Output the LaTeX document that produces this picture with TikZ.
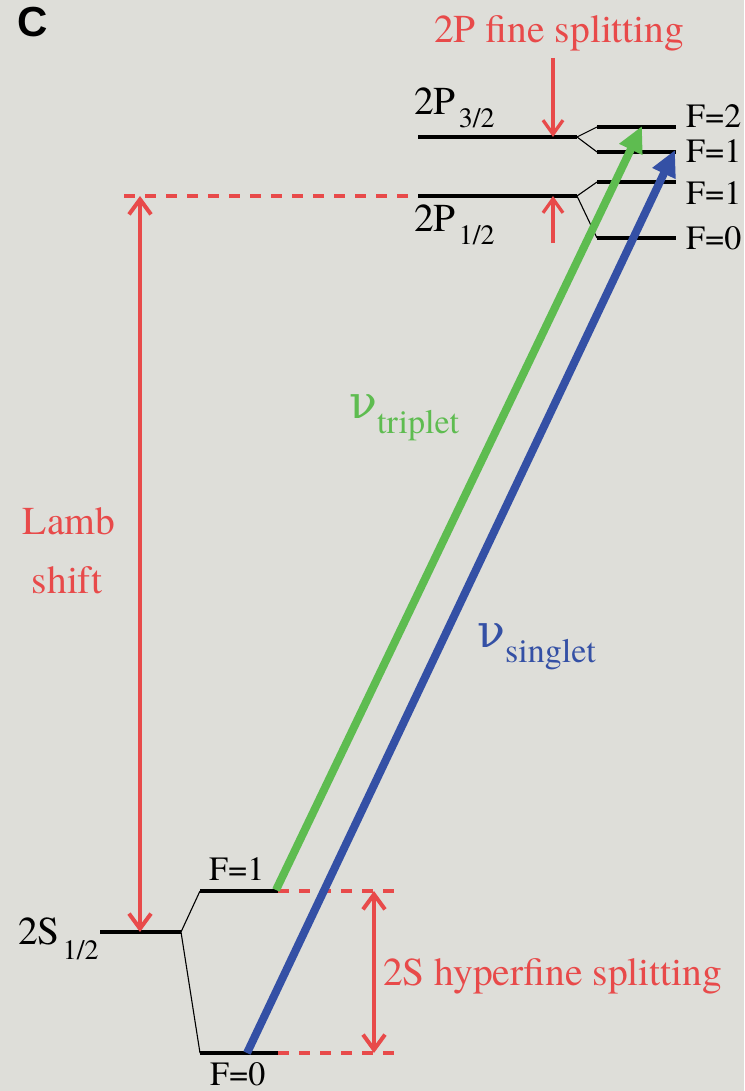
\documentclass[tikz,border=0pt]{standalone}
\usepackage{fontspec}
\setmainfont{texgyretermes}[Extension=.otf, UprightFont=*-regular, BoldFont=*-bold, ItalicFont=*-italic, BoldItalicFont=*-bolditalic]
\newfontfamily\panelfont{Liberation Sans}
\newfontfamily\greekfont{DejaVu Serif}
\usetikzlibrary{arrows.meta}
\definecolor{bg}{RGB}{222,222,217}
\definecolor{lred}{RGB}{232,74,74}
\definecolor{lgreen}{RGB}{94,188,80}
\definecolor{lblue}{RGB}{52,80,165}
\newcommand{\mainsz}{\fontsize{39.5}{44}\selectfont}
\newcommand{\fsz}{\fontsize{34}{38}\selectfont}
\newcommand{\subsz}{\fontsize{28}{30}\selectfont}
\newcommand{\nusz}{\fontsize{46}{48}\selectfont}
\tikzset{
  level/.style={line width=4pt, black, line cap=butt},
  branch/.style={line width=1.1pt, black},
  reddash/.style={lred, line width=4pt, dash pattern=on 11pt off 10pt},
  redbar/.style={lred, line width=4pt},
  transition/.style={line width=8pt, -{Triangle[length=26pt,width=24pt]}},
  txt/.style={inner sep=0pt, anchor=base west},
}
\begin{document}
\begin{tikzpicture}[x=1pt,y=-1pt]
\fill[bg] (0,0) rectangle (744,1091);
\useasboundingbox (0,0) rectangle (744,1091);

% ---- level coordinates
\coordinate (s2l) at (100,932);  \coordinate (s2r) at (181,932);
\coordinate (sf1l) at (200,891); \coordinate (sf1r) at (278,891);
\coordinate (sf0l) at (200,1053);\coordinate (sf0r) at (278,1053);
\coordinate (p32l) at (418,137); \coordinate (p32r) at (577,137);
\coordinate (p12l) at (418,196); \coordinate (p12r) at (577,196);
\coordinate (pf2l) at (597,127); \coordinate (pf2r) at (676,127);
\coordinate (pf1al) at (597,152);\coordinate (pf1ar) at (676,152);
\coordinate (pf1bl) at (597,182);\coordinate (pf1br) at (676,182);
\coordinate (pf0l) at (597,238); \coordinate (pf0r) at (676,238);

% ---- red dashed guides
\coordinate (lambd) at (124,196);
\coordinate (hf1e) at (395,891);
\coordinate (hf0e) at (395,1053);
\draw[reddash] (lambd) -- (p12l);
\draw[reddash] (sf1r) -- (hf1e);
\draw[reddash] (sf0r) -- (hf0e);

% ---- levels
\draw[level] (s2l) -- (s2r);
\draw[level] (sf1l) -- (sf1r);
\draw[level] (sf0l) -- (sf0r);
\draw[level] (p32l) -- (p32r);
\draw[level] (p12l) -- (p12r);
\draw[level] (pf2l) -- (pf2r);
\draw[level] (pf1al) -- (pf1ar);
\draw[level] (pf1bl) -- (pf1br);
\draw[level] (pf0l) -- (pf0r);

% ---- thin branch connectors
\draw[branch] (s2r) -- (sf1l);
\draw[branch] (s2r) -- (sf0l);
\draw[branch] (p32r) -- (pf2l);
\draw[branch] (p32r) -- (pf1al);
\draw[branch] (p12r) -- (pf1bl);
\draw[branch] (p12r) -- (pf0l);

% ---- Lamb shift arrow
\coordinate (lambtop) at (140,196);
\coordinate (lambbot) at (140,932);
\draw[redbar, {Straight Barb[length=15pt,width=22pt]}-{Straight Barb[length=15pt,width=22pt]}] (lambtop) -- (lambbot);

% ---- hyperfine arrow
\coordinate (hftop) at (374,891);
\coordinate (hfbot) at (374,1053);
\draw[redbar, {Straight Barb[length=15pt,width=22pt]}-{Straight Barb[length=15pt,width=22pt]}] (hftop) -- (hfbot);

% ---- fine splitting arrows
\coordinate (fstop) at (553,58);
\coordinate (fsa) at (553,137);
\coordinate (fsb) at (553,196);
\coordinate (fsbot) at (553,243);
\draw[lred, line width=3.3pt, -{Straight Barb[length=14pt,width=20pt]}] (fstop) -- (fsa);
\draw[lred, line width=3.3pt, -{Straight Barb[length=14pt,width=20pt]}] (fsbot) -- (fsb);

% ---- transitions
\coordinate (gstart) at (276,890);
\coordinate (gend) at (642,126);
\coordinate (bstart) at (247,1053);
\coordinate (bend) at (675,150);
\draw[transition, lgreen] (gstart) -- (gend);
\draw[transition, lblue] (bstart) -- (bend);

% ---- labels
\node[txt] (panel) at (17,37) {\panelfont\bfseries\fontsize{42}{44}\selectfont C};
\node[txt, text=lred] (finelab) at (434,43) {\mainsz 2P fine splitting};
\node[txt] (p32lab) at (414,115) {\mainsz 2P\hspace{3pt}\raisebox{-13pt}{\subsz 3/2}};
\node[txt] (p12lab) at (414,232) {\mainsz 2P\hspace{3pt}\raisebox{-13pt}{\subsz 1/2}};
\node[txt] (pf2lab) at (686,128) {\fsz F=2};
\node[txt] (pf1alab) at (686,163) {\fsz F=1};
\node[txt] (pf1blab) at (686,205) {\fsz F=1};
\node[txt] (pf0lab) at (686,250) {\fsz F=0};
\node[txt, text=lgreen] (trip) at (349,418) {{\greekfont\nusz ν}\raisebox{-15pt}{\fsz triplet}};
\node[txt, text=lblue] (sing) at (477,647) {{\greekfont\nusz ν}\raisebox{-15pt}{\fsz singlet}};
\node[inner sep=0pt, anchor=base, text=lred] (lamb1) at (69,534) {\mainsz Lamb};
\node[inner sep=0pt, anchor=base, text=lred] (lamb2) at (67,593) {\mainsz shift};
\node[txt] (s2lab) at (18,944) {\mainsz 2S\hspace{3pt}\raisebox{-15pt}{\subsz 1/2}};
\node[txt] (sf1lab) at (209,880) {\fsz F=1};
\node[txt] (sf0lab) at (210,1085) {\fsz F=0};
\node[txt, text=lred] (hflab) at (383,985) {\mainsz 2S hyperfine splitting};
\end{tikzpicture}
\end{document}
